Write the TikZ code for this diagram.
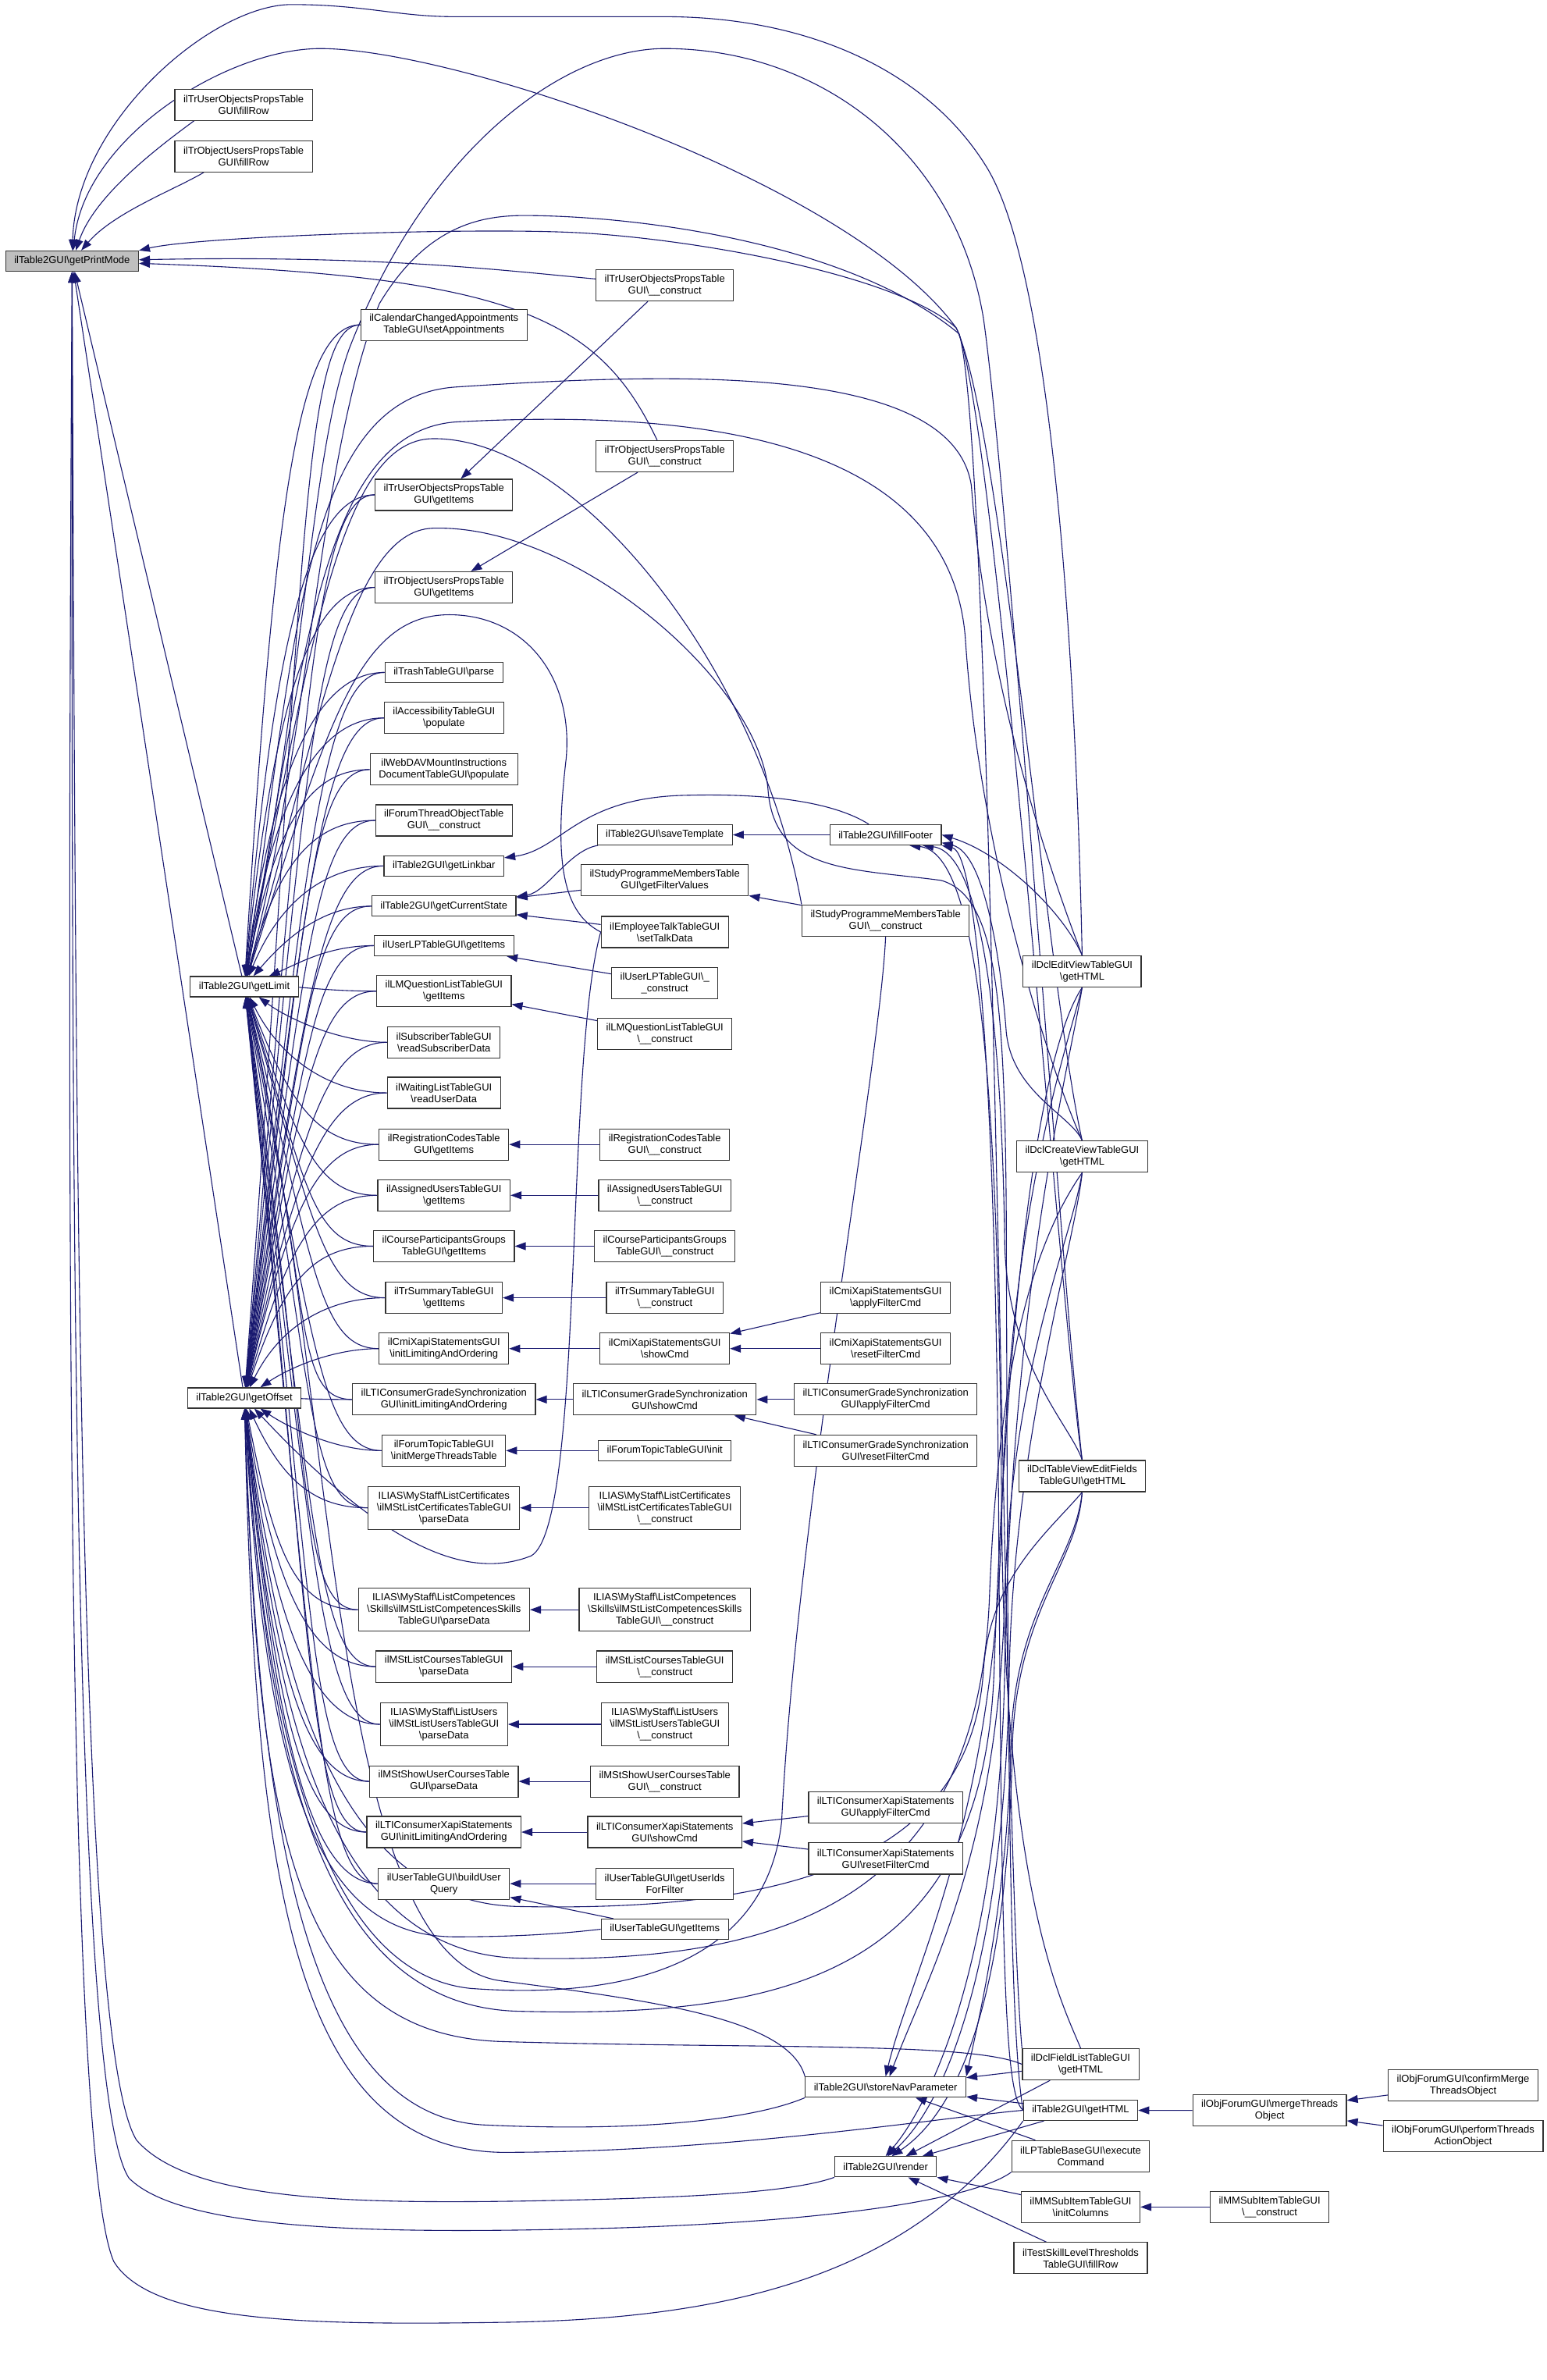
\documentclass[tikz,border=0pt]{standalone}
\usepackage{fontspec}
\setmainfont{Liberation Sans}
\usetikzlibrary{arrows.meta,backgrounds}
\definecolor{edgec}{HTML}{191970}
\newcommand\bsl{\textbackslash}
\pgfdeclarelayer{bottom}
\pgfsetlayers{bottom,background,main}
\tikzset{
  every node/.style={font=\fontsize{13}{15}\selectfont},
  nbox/.style={draw=black!80, line width=1.2pt, fill=white, align=center, inner xsep=11pt, inner ysep=2pt, minimum height=26pt},
  nbox2/.style={nbox, minimum height=40pt},
  nbox3/.style={nbox, minimum height=55pt},
  cedge/.style={draw=edgec, line width=1.1pt, {Triangle[length=14pt,width=10pt]}-},
}
\begin{document}
\begin{tikzpicture}[x=1.944pt,y=-1.944pt]
\begin{pgfonlayer}{bottom}
\fill[white] (0,0) rectangle (1019,1568);
\end{pgfonlayer}
\useasboundingbox (0,0) rectangle (1019,1568);
% column 0/1
\node[nbox,fill=black!25] (pm) at (47.5,172) {ilTable2GUI\bsl getPrintMode};
\node[nbox2] (fr1) at (160.5,69) {ilTrUserObjectsPropsTable\\GUI\bsl fillRow};
\node[nbox2] (fr2) at (160.5,103) {ilTrObjectUsersPropsTable\\GUI\bsl fillRow};
\node[nbox] (lim) at (161,650) {ilTable2GUI\bsl getLimit};
\node[nbox] (off) at (161,921) {ilTable2GUI\bsl getOffset};
% column 2
\node[nbox2] (cal) at (292.5,214) {ilCalendarChangedAppointments\\TableGUI\bsl setAppointments};
\node[nbox2] (trug) at (292.5,326) {ilTrUserObjectsPropsTable\\GUI\bsl getItems};
\node[nbox2] (trog) at (292.5,387) {ilTrObjectUsersPropsTable\\GUI\bsl getItems};
\node[nbox] (trash) at (292.5,443) {ilTrashTableGUI\bsl parse};
\node[nbox2] (acc) at (292.5,473) {ilAccessibilityTableGUI\\\bsl populate};
\node[nbox2] (webdav) at (292.5,507) {ilWebDAVMountInstructions\\DocumentTableGUI\bsl populate};
\node[nbox2] (forumthr) at (292.5,540.5) {ilForumThreadObjectTable\\GUI\bsl \_\_construct};
\node[nbox] (linkbar) at (292.5,570.5) {ilTable2GUI\bsl getLinkbar};
\node[nbox] (curstate) at (292.5,597) {ilTable2GUI\bsl getCurrentState};
\node[nbox] (ulp) at (292.5,623) {ilUserLPTableGUI\bsl getItems};
\node[nbox2] (lmq) at (292.5,653) {ilLMQuestionListTableGUI\\\bsl getItems};
\node[nbox2] (sub) at (292.5,686.7) {ilSubscriberTableGUI\\\bsl readSubscriberData};
\node[nbox2] (wait) at (292.5,720) {ilWaitingListTableGUI\\\bsl readUserData};
\node[nbox2] (reg) at (292.5,754) {ilRegistrationCodesTable\\GUI\bsl getItems};
\node[nbox2] (asg) at (292.5,787.5) {ilAssignedUsersTableGUI\\\bsl getItems};
\node[nbox2] (cpg) at (292.5,821) {ilCourseParticipantsGroups\\TableGUI\bsl getItems};
\node[nbox2] (trs) at (292.5,855) {ilTrSummaryTableGUI\\\bsl getItems};
\node[nbox2] (cmi) at (292.5,888.5) {ilCmiXapiStatementsGUI\\\bsl initLimitingAndOrdering};
\node[nbox2] (ltig) at (292.5,922) {ilLTIConsumerGradeSynchronization\\GUI\bsl initLimitingAndOrdering};
\node[nbox2] (ftt) at (292.5,955.7) {ilForumTopicTableGUI\\\bsl initMergeThreadsTable};
\node[nbox3] (cert) at (292.5,993.4) {ILIAS\bsl MyStaff\bsl ListCertificates\\\bsl ilMStListCertificatesTableGUI\\\bsl parseData};
\node[nbox3] (comp) at (292.5,1060.5) {ILIAS\bsl MyStaff\bsl ListCompetences\\\bsl Skills\bsl ilMStListCompetencesSkills\\TableGUI\bsl parseData};
\node[nbox2] (crs) at (292.5,1098) {ilMStListCoursesTableGUI\\\bsl parseData};
\node[nbox3] (users) at (292.5,1136) {ILIAS\bsl MyStaff\bsl ListUsers\\\bsl ilMStListUsersTableGUI\\\bsl parseData};
\node[nbox2] (showuc) at (292.5,1173.6) {ilMStShowUserCoursesTable\\GUI\bsl parseData};
\node[nbox2] (ltix) at (292.5,1207) {ilLTIConsumerXapiStatements\\GUI\bsl initLimitingAndOrdering};
\node[nbox2] (buq) at (292.5,1241) {ilUserTableGUI\bsl buildUser\\Query};
% column 3
\node[nbox2] (truc) at (438,188) {ilTrUserObjectsPropsTable\\GUI\bsl \_\_construct};
\node[nbox2] (troc) at (438,300.6) {ilTrObjectUsersPropsTable\\GUI\bsl \_\_construct};
\node[nbox] (save) at (438,550) {ilTable2GUI\bsl saveTemplate};
\node[nbox2] (spfv) at (438,580) {ilStudyProgrammeMembersTable\\GUI\bsl getFilterValues};
\node[nbox2] (emp) at (438,614) {ilEmployeeTalkTableGUI\\\bsl setTalkData};
\node[nbox2] (ulpc) at (438,647.6) {ilUserLPTableGUI\bsl\_\\\_construct};
\node[nbox2] (lmqc) at (438,681) {ilLMQuestionListTableGUI\\\bsl \_\_construct};
\node[nbox2] (regc) at (438,754) {ilRegistrationCodesTable\\GUI\bsl \_\_construct};
\node[nbox2] (asgc) at (438,787.5) {ilAssignedUsersTableGUI\\\bsl \_\_construct};
\node[nbox2] (cpgc) at (438,821) {ilCourseParticipantsGroups\\TableGUI\bsl \_\_construct};
\node[nbox2] (trsc) at (438,855) {ilTrSummaryTableGUI\\\bsl \_\_construct};
\node[nbox2] (cmis) at (438,888.5) {ilCmiXapiStatementsGUI\\\bsl showCmd};
\node[nbox2] (ltigs) at (438,922) {ilLTIConsumerGradeSynchronization\\GUI\bsl showCmd};
\node[nbox] (fti) at (438,955.7) {ilForumTopicTableGUI\bsl init};
\node[nbox3] (certc) at (438,993.4) {ILIAS\bsl MyStaff\bsl ListCertificates\\\bsl ilMStListCertificatesTableGUI\\\bsl \_\_construct};
\node[nbox3] (compc) at (438,1060.5) {ILIAS\bsl MyStaff\bsl ListCompetences\\\bsl Skills\bsl ilMStListCompetencesSkills\\TableGUI\bsl \_\_construct};
\node[nbox2] (crsc) at (438,1098) {ilMStListCoursesTableGUI\\\bsl \_\_construct};
\node[nbox3] (usersc) at (438,1136) {ILIAS\bsl MyStaff\bsl ListUsers\\\bsl ilMStListUsersTableGUI\\\bsl \_\_construct};
\node[nbox2] (showucc) at (438,1173.6) {ilMStShowUserCoursesTable\\GUI\bsl \_\_construct};
\node[nbox2] (ltixs) at (438,1207) {ilLTIConsumerXapiStatements\\GUI\bsl showCmd};
\node[nbox2] (uidf) at (438,1241) {ilUserTableGUI\bsl getUserIds\\ForFilter};
\node[nbox] (utgi) at (438,1271) {ilUserTableGUI\bsl getItems};
% column 4
\node[nbox] (ff) at (583.5,550) {ilTable2GUI\bsl fillFooter};
\node[nbox2] (spc) at (583.5,606.4) {ilStudyProgrammeMembersTable\\GUI\bsl \_\_construct};
\node[nbox2] (cmia) at (583.5,855) {ilCmiXapiStatementsGUI\\\bsl applyFilterCmd};
\node[nbox2] (cmir) at (583.5,888.5) {ilCmiXapiStatementsGUI\\\bsl resetFilterCmd};
\node[nbox2] (ltiga) at (583.5,922) {ilLTIConsumerGradeSynchronization\\GUI\bsl applyFilterCmd};
\node[nbox2] (ltigr) at (583.5,955.7) {ilLTIConsumerGradeSynchronization\\GUI\bsl resetFilterCmd};
\node[nbox2] (ltixa) at (583.5,1190.8) {ilLTIConsumerXapiStatements\\GUI\bsl applyFilterCmd};
\node[nbox2] (ltixr) at (583.5,1224.4) {ilLTIConsumerXapiStatements\\GUI\bsl resetFilterCmd};
\node[nbox] (snp) at (583.5,1375) {ilTable2GUI\bsl storeNavParameter};
\node[nbox] (rnd) at (583.5,1427.5) {ilTable2GUI\bsl render};
% column 5
\node[nbox2] (dcle) at (713,640) {ilDclEditViewTableGUI\\\bsl getHTML};
\node[nbox2] (dclc) at (713,762) {ilDclCreateViewTableGUI\\\bsl getHTML};
\node[nbox2] (dclt) at (713,972.5) {ilDclTableViewEditFields\\TableGUI\bsl getHTML};
\node[nbox2] (dclf) at (712,1360) {ilDclFieldListTableGUI\\\bsl getHTML};
\node[nbox] (gh) at (712,1390.3) {ilTable2GUI\bsl getHTML};
\node[nbox2] (lpt) at (712,1420.5) {ilLPTableBaseGUI\bsl execute\\Command};
\node[nbox2] (mmi) at (712,1454) {ilMMSubItemTableGUI\\\bsl initColumns};
\node[nbox2] (tsk) at (712,1487.7) {ilTestSkillLevelThresholds\\TableGUI\bsl fillRow};
% column 6/7
\node[nbox2] (mto) at (836.5,1390.4) {ilObjForumGUI\bsl mergeThreads\\Object};
\node[nbox2] (mmc) at (836.5,1454) {ilMMSubItemTableGUI\\\bsl \_\_construct};
\node[nbox2] (cmto) at (964,1373.8) {ilObjForumGUI\bsl confirmMerge\\ThreadsObject};
\node[nbox2] (pta) at (964,1407.4) {ilObjForumGUI\bsl performThreads\\ActionObject};

\begin{pgfonlayer}{background}
% into getPrintMode
\draw[cedge] (pm) .. controls (62,130) and (100,100) .. (fr1.-162);
\draw[cedge] (pm) .. controls (75,140) and (115,125) .. (fr2.-158);
\draw[cedge] (pm) .. controls (250,168) and (330,178) .. (truc);
\draw[cedge] (pm) .. controls (340,182) and (395,210) .. (troc);
\draw[cedge] (pm) -- (lim);
\draw[cedge] (pm) -- (off);
\draw[cedge] (pm) .. controls (50,80) and (140,3) .. (192,3) .. controls (240,3) and (262,11) .. (300,11) -- (438,11) .. controls (530,11) and (610,45) .. (650,110) .. controls (690,175) and (708,400) .. (dcle.north);
\draw[cedge] (pm) .. controls (56,90) and (150,32) .. (211,32) .. controls (300,32) and (560,120) .. (630,216) .. controls (660,280) and (690,650) .. (dclc.north);
\draw[cedge] (pm.north east) .. controls (130,156) and (300,150) .. (374,153) .. controls (450,156) and (590,180) .. (630,216) .. controls (655,260) and (700,880) .. (dclt.north);
\draw[cedge] (pm) .. controls (44,800) and (44,1420) .. (75,1490) .. controls (100,1530) and (200,1532) .. (330,1530) .. controls (480,1528) and (600,1500) .. (gh.south west);
\draw[cedge] (pm) .. controls (47,800) and (48,1380) .. (85,1435) .. controls (120,1470) and (250,1472) .. (400,1468) .. controls (540,1464) and (640,1450) .. (lpt.south west);
\draw[cedge] (pm) .. controls (50,800) and (52,1350) .. (90,1410) .. controls (125,1450) and (230,1452) .. (350,1450) .. controls (450,1448) and (520,1445) .. (rnd.south west);
% column 2 into getLimit / getOffset
\foreach \n/\px/\py/\q in {cal/20/-327/40, trug/20/-243/40, trog/20/-197/40, trash/20/-155/40, acc/20/-133/40, webdav/20/-107/40, forumthr/22/-82/40, linkbar/25/-60/35, curstate/30/-35/30, ulp/35/-15/30, lmq/35/0/30, sub/30/22/30, wait/25/50/35, reg/30/78/40, asg/35/103/40, cpg/40/128/40, trs/45/154/40, cmi/45/179/40, ltig/45/204/40, ftt/45/229/40, cert/45/258/40, comp/45/308/40, crs/45/336/40, users/45/365/40, showuc/45/393/40, ltix/45/418/40, buq/45/443/40}
  {\draw[cedge] (lim) .. controls +(\px,\py) and +(-\q,0) .. (\n.west);}
\foreach \n/\px/\py/\q in {cal/40/-530/40, trug/40/-446/40, trog/40/-400/40, trash/40/-358/40, acc/40/-336/40, webdav/40/-310/40, forumthr/40/-285/40, linkbar/40/-263/40, curstate/40/-243/40, ulp/40/-223/40, lmq/38/-201/40, sub/36/-176/40, wait/34/-151/40, reg/30/-125/40, asg/28/-100/40, cpg/25/-75/40, trs/25/-50/35, cmi/30/-20/30, ltig/30/0/30, ftt/30/20/30, cert/25/54/35, comp/20/105/40, crs/20/133/40, users/20/161/40, showuc/20/189/40, ltix/20/214/40, buq/20/240/40}
  {\draw[cedge] (off) .. controls +(\px,\py) and +(-\q,0) .. (\n.west);}
% long edges into getLimit
\draw[cedge] (lim) .. controls (215,480) and (235,405) .. (296,405) .. controls (345,405) and (378,445) .. (373,500) .. controls (366,560) and (368,600) .. (emp.west);
\draw[cedge] (lim) .. controls (205,420) and (225,290) .. (285,289) .. controls (380,288) and (500,440) .. (spc.north west);
\draw[cedge] (lim) .. controls (195,420) and (200,262) .. (300,255) .. controls (450,245) and (628,240) .. (640,320) .. controls (650,450) and (690,570) .. (dcle.north);
\draw[cedge] (lim) .. controls (200,440) and (210,285) .. (300,278) .. controls (450,270) and (625,285) .. (636,420) .. controls (645,560) and (690,700) .. (dclc.north);
\draw[cedge] (lim) .. controls (210,480) and (230,350) .. (285,348) .. controls (380,345) and (500,450) .. (506,520) .. controls (510,575) and (560,572) .. (620,580) .. controls (655,590) and (662,650) .. (663,800) .. controls (664,1100) and (664,1330) .. (gh.west);
\draw[cedge] (lim) .. controls (200,450) and (205,300) .. (230,230) .. controls (280,100) and (370,32) .. (438,32) .. controls (540,32) and (630,100) .. (648,210) .. controls (665,330) and (700,850) .. (dclt.north);
\draw[cedge] (lim) .. controls (205,480) and (210,300) .. (250,200) .. controls (280,150) and (315,142) .. (345,142) .. controls (420,142) and (560,160) .. (632,220) .. controls (655,300) and (660,1200) .. (dclf.north west);
\draw[cedge] (lim) .. controls (220,900) and (215,1290) .. (330,1305) .. controls (430,1318) and (520,1330) .. (snp.north west);
% long edges into getOffset
\draw[cedge] (off) .. controls (240,1005) and (300,1045) .. (350,1025) .. controls (385,1005) and (372,700) .. (emp.west);
\draw[cedge] (off) .. controls (175,1150) and (215,1300) .. (310,1310) .. controls (420,1318) and (505,1290) .. (515,1200) .. controls (525,1000) and (580,700) .. (spc.south);
\draw[cedge] (off) .. controls (170,1200) and (200,1395) .. (320,1400) .. controls (430,1405) and (500,1395) .. (snp.south west);
\draw[cedge] (off) .. controls (168,1230) and (190,1415) .. (330,1418) .. controls (480,1418) and (620,1395) .. (gh.west);
\draw[cedge] (off) .. controls (170,1200) and (190,1340) .. (330,1345) .. controls (500,1350) and (640,1345) .. (dclf.west);
\draw[cedge] (off) .. controls (175,1130) and (200,1320) .. (340,1325) .. controls (520,1330) and (648,1300) .. (655,1100) .. controls (662,900) and (680,700) .. (dcle.south);
\draw[cedge] (off) .. controls (178,1110) and (210,1285) .. (340,1290) .. controls (520,1295) and (645,1250) .. (652,1050) .. controls (658,900) and (680,820) .. (dclc.south);
\draw[cedge] (off) .. controls (180,1090) and (215,1252) .. (340,1256) .. controls (520,1260) and (640,1225) .. (648,1100) .. controls (652,1040) and (690,1010) .. (dclt.south);
\draw[cedge] (off) .. controls (175,1180) and (210,1276) .. (300,1276) .. controls (340,1276) and (370,1274) .. (utgi.west);
% column 2 <- column 3
\draw[cedge] (trug) -- (truc);
\draw[cedge] (trog) -- (troc);
\draw[cedge] (linkbar) .. controls (370,560) and (380,526) .. (450,524) .. controls (520,522) and (555,532) .. (ff);
\draw[cedge] (curstate) .. controls (360,588) and (375,560) .. (save);
\draw[cedge] (curstate) -- (spfv);
\draw[cedge] (curstate) -- (emp);
\draw[cedge] (ulp) -- (ulpc);
\draw[cedge] (lmq) -- (lmqc);
\foreach \a/\b in {reg/regc, asg/asgc, cpg/cpgc, trs/trsc, cmi/cmis, ltig/ltigs, ftt/fti, cert/certc, comp/compc, crs/crsc, users/usersc, showuc/showucc, ltix/ltixs, buq/uidf, buq/utgi}
  {\draw[cedge] (\a) -- (\b);}
% column 3 <- column 4
\foreach \a/\b in {save/ff, spfv/spc, cmis/cmia, cmis/cmir, ltigs/ltiga, ltigs/ltigr, ltixs/ltixa, ltixs/ltixr}
  {\draw[cedge] (\a) -- (\b);}
% fillFooter <- column 5
\draw[cedge] (ff.east) .. controls (660,562) and (700,600) .. (dcle.north);
\draw[cedge] (ff.-8) .. controls (650,562) and (660,640) .. (663,680) .. controls (667,720) and (706,735) .. (dclc.north);
\draw[cedge] (ff.-16) .. controls (648,562) and (660,680) .. (662,820) .. controls (664,900) and (706,940) .. (dclt.north);
\draw[cedge] (ff.-24) .. controls (646,562) and (658,720) .. (660,1000) .. controls (662,1250) and (700,1320) .. (dclf.north);
\draw[cedge] (ff.south east) .. controls (644,562) and (656,720) .. (658,1000) .. controls (660,1300) and (662,1380) .. (gh.west);
% storeNavParameter
\draw[cedge] (snp.north) .. controls (600,1300) and (655,1200) .. (660,1000) .. controls (665,800) and (700,700) .. (dcle.south);
\draw[cedge] (snp.70) .. controls (612,1300) and (658,1220) .. (662,1050) .. controls (667,900) and (705,820) .. (dclc.south);
\draw[cedge] (snp.north east) .. controls (645,1330) and (664,1250) .. (666,1150) .. controls (668,1060) and (708,1030) .. (dclt.south);
\draw[cedge] (snp) -- (dclf);
\draw[cedge] (snp) -- (gh);
\draw[cedge] (snp) -- (lpt);
% render
\draw[cedge] (rnd.north) .. controls (610,1390) and (658,1300) .. (662,1100) .. controls (666,850) and (705,700) .. (dcle.south);
\draw[cedge] (rnd.80) .. controls (620,1390) and (662,1300) .. (665,1100) .. controls (668,950) and (708,820) .. (dclc.south);
\draw[cedge] (rnd.60) .. controls (630,1392) and (664,1320) .. (667,1150) .. controls (670,1060) and (710,1030) .. (dclt.south);
\draw[cedge] (rnd) -- (dclf);
\draw[cedge] (rnd) -- (gh);
\draw[cedge] (rnd) -- (mmi);
\draw[cedge] (rnd) -- (tsk);
% right part
\draw[cedge] (gh) -- (mto);
\draw[cedge] (mmi) -- (mmc);
\draw[cedge] (mto) -- (cmto);
\draw[cedge] (mto) -- (pta);
\end{pgfonlayer}
\end{tikzpicture}
\end{document}
